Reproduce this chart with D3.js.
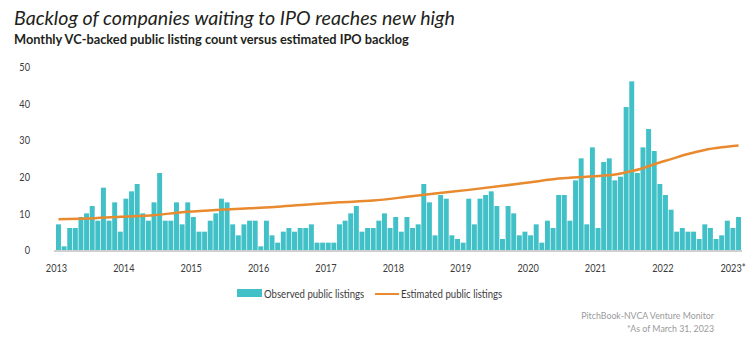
<!DOCTYPE html>
<html>
<head>
<meta charset="utf-8">
<script src="https://cdn.jsdelivr.net/npm/d3@7"></script>
<style>
  body { margin: 0; background: #fff; }
</style>
</head>
<body>
<div id="chart"></div>
<script>
// monthly VC-backed public listings, Jan 2013 onward
var observed = [
  7, 1, 6, 6, 9, 10, 12, 8, 17, 8, 13, 5,
  14, 16, 18, 10, 8, 13, 21, 8, 8, 13, 7, 13,
  9, 5, 5, 8, 10, 14, 13, 7, 4, 7, 8, 8,
  1, 8, 4, 2, 5, 6, 5, 6, 6, 7, 2, 2,
  2, 2, 7, 8, 10, 12, 5, 6, 6, 8, 10, 6,
  9, 5, 9, 6, 7, 18, 13, 4, 15, 14, 4, 3,
  2, 14, 7, 14, 15, 16, 12, 3, 12, 10, 4, 5,
  4, 7, 2, 8, 6, 15, 15, 8, 19, 25, 7, 28,
  6, 24, 25, 19, 20, 39, 46, 21, 28, 33, 27, 18,
  15, 11, 5, 6, 5, 5, 3, 7, 6, 3, 4, 8,
  6, 9
];

// estimated backlog, read at selected months (month index from Jan 2013)
var estMonths = [0, 5, 11, 17, 22, 28, 34, 39, 45, 50, 56, 62, 67, 73, 79, 84, 89, 95, 99, 101, 104, 106, 109, 112, 115, 118, 121];
var estValues = [8.4, 8.6, 9.1, 9.5, 10.3, 10.9, 11.4, 11.8, 12.5, 13.0, 13.5, 14.5, 15.4, 16.4, 17.5, 18.5, 19.5, 20.1, 20.6, 21.2, 22.3, 23.4, 24.8, 26.2, 27.3, 28.0, 28.5];

var yearLabels = ["2013", "2014", "2015", "2016", "2017", "2018", "2019", "2020", "2021", "2022", "2023*"];
var yTicks = [0, 10, 20, 30, 40, 50];

var svgWidth = 754, svgHeight = 345;
var plotLeft = 56, plotRight = 741, plotTop = 66.7, plotBottom = 250;
var squeeze = 0.8; // the source font is a condensed one

var svg = d3.select("#chart")
    .append("svg")
    .attr("width", svgWidth)
    .attr("height", svgHeight);

// title + subtitle
svg.append("text")
    .attr("x", 14).attr("y", 25)
    .attr("font-family", "Lato, sans-serif")
    .attr("font-style", "italic")
    .attr("font-size", 19.6)
    .attr("fill", "#231f20")
    .text("Backlog of companies waiting to IPO reaches new high");

svg.append("text")
    .attr("x", 14).attr("y", 44)
    .attr("font-family", "Lato, sans-serif")
    .attr("font-weight", 700)
    .attr("font-size", 12.8)
    .attr("fill", "#231f20")
    .text("Monthly VC-backed public listing count versus estimated IPO backlog");

// scales
var xScale = d3.scaleBand()
    .domain(d3.range(observed.length))
    .range([plotLeft, plotRight])
    .paddingInner(0.12)
    .paddingOuter(0);

var xPos = d3.scaleLinear()
    .domain([0, observed.length])
    .range([plotLeft, plotRight]);

var yScale = d3.scaleLinear()
    .domain([0, 50])
    .range([plotBottom, plotTop]);

// bars
svg.append("g").selectAll("rect")
    .data(observed)
    .enter()
    .append("rect")
    .attr("x", (d, i) => xScale(i))
    .attr("y", d => yScale(d))
    .attr("width", xScale.bandwidth())
    .attr("height", d => yScale(0) - yScale(d))
    .attr("fill", "#41c1c7");

// baseline
svg.append("line")
    .attr("x1", plotLeft - 2).attr("x2", plotRight + 1)
    .attr("y1", yScale(0) + 1).attr("y2", yScale(0) + 1)
    .attr("stroke", "#cfcfcf")
    .attr("stroke-width", 2);

// estimated line
var line = d3.line()
    .x((d, i) => xScale(estMonths[i]) + xScale.bandwidth() / 2)
    .y(d => yScale(d))
    .curve(d3.curveMonotoneX);

svg.append("path")
    .datum(estValues)
    .attr("d", line)
    .attr("fill", "none")
    .attr("stroke", "#e98a2f")
    .attr("stroke-width", 2.5);

// y axis
var yAxis = d3.axisLeft(yScale).tickValues(yTicks).tickSize(0).tickPadding(0);
var yG = svg.append("g")
    .attr("transform", "translate(30,0)")
    .call(yAxis);
yG.select(".domain").remove();
yG.selectAll("text")
    .attr("font-family", "Lato, sans-serif")
    .attr("font-size", 11.5)
    .attr("fill", "#3c3c3c")
    .attr("transform", `scale(${squeeze},1)`);

// x axis, year labels at January of each year
var xAxis = d3.axisBottom(xPos)
    .tickValues(yearLabels.map((d, i) => i * 12))
    .tickFormat((d, i) => yearLabels[i])
    .tickSize(0)
    .tickPadding(14);
var xG = svg.append("g")
    .attr("transform", `translate(0,${plotBottom})`)
    .call(xAxis);
xG.select(".domain").remove();
xG.selectAll("text")
    .attr("font-family", "Lato, sans-serif")
    .attr("font-size", 11.5)
    .attr("fill", "#3c3c3c")
    .attr("transform", `scale(${squeeze},1)`);
// the asterisk label sits a bit right
xG.selectAll(".tick").filter((d, i) => i === yearLabels.length - 1)
    .select("text").attr("dx", "0.3em");

// legend
var legend = svg.append("g");
legend.append("rect")
    .attr("x", 237).attr("y", 289)
    .attr("width", 25).attr("height", 8)
    .attr("fill", "#41c1c7");
legend.append("text")
    .attr("transform", `translate(264,297.5) scale(${squeeze},1)`)
    .attr("font-family", "Lato, sans-serif")
    .attr("font-size", 12)
    .attr("fill", "#3c3c3c")
    .text("Observed public listings");
legend.append("line")
    .attr("x1", 375).attr("x2", 399)
    .attr("y1", 294).attr("y2", 294)
    .attr("stroke", "#e98a2f")
    .attr("stroke-width", 2);
legend.append("text")
    .attr("transform", `translate(401,297.5) scale(${squeeze},1)`)
    .attr("font-family", "Lato, sans-serif")
    .attr("font-size", 12)
    .attr("fill", "#3c3c3c")
    .text("Estimated public listings");

// source
svg.append("text")
    .attr("x", 714).attr("y", 319)
    .attr("text-anchor", "end")
    .attr("font-family", "Lato, sans-serif")
    .attr("font-size", 8.8)
    .attr("fill", "#9a9a9a")
    .text("PitchBook-NVCA Venture Monitor");
svg.append("text")
    .attr("x", 714).attr("y", 332)
    .attr("text-anchor", "end")
    .attr("font-family", "Lato, sans-serif")
    .attr("font-size", 8.8)
    .attr("fill", "#9a9a9a")
    .text("*As of March 31, 2023");
</script>
</body>
</html>
